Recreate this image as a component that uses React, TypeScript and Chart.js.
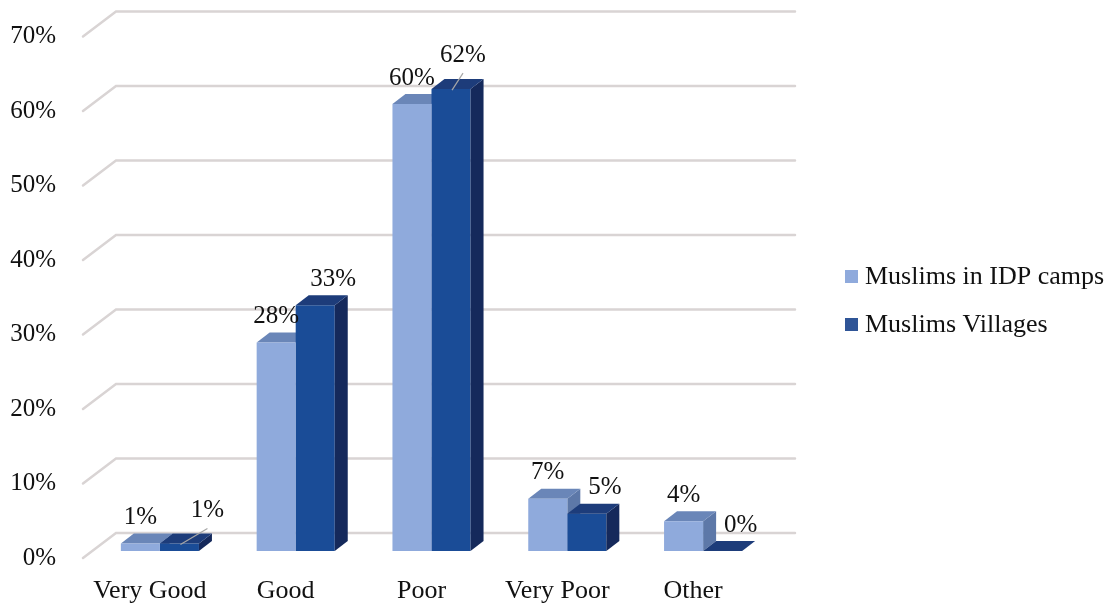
import React, { useEffect, useRef } from 'react';
import { Chart, registerables } from 'chart.js';

Chart.register(...registerables);

// ---- data ----
const categories = ['Very Good', 'Good', 'Poor', 'Very Poor', 'Other'];
const idpCamps = [1, 28, 60, 7, 4];
const villages = [1, 33, 62, 5, 0];
const seriesNames = ['Muslims in IDP camps', 'Muslims Villages'];
const yTickValues = [0, 10, 20, 30, 40, 50, 60, 70];

// ---- style ----
const FONT = '"Liberation Serif", "Times New Roman", serif';
const FONT_SIZE = 26;
const DEPTH_X = 13;
const DEPTH_Y = 10;
const WALL_X = 24;
const WALL_Y = 18;
const FRONT_X = -9;
const FRONT_Y = 7;
const GRID_RIGHT = 795;
const FACES = [
  { front: '#8FAADC', top: '#6A86B8', side: '#5D78A8' },
  { front: '#1A4C97', top: '#1D3C7A', side: '#15295B' },
];
const LEGEND_COLORS = ['#8FAADC', '#2F5597'];
const LABEL_SHIFT = [
  [0, -26],
  [18, -26],
];
// labels moved by hand in the original, with leader lines
const LABEL_SPECIAL: Record<string, [number, number]> = {
  '1-0': [28, -33],
  '1-2': [12, -34],
};

function poly(ctx: CanvasRenderingContext2D, pts: number[][], color: string) {
  ctx.beginPath();
  ctx.moveTo(pts[0][0], pts[0][1]);
  for (let i = 1; i < pts.length; i++) ctx.lineTo(pts[i][0], pts[i][1]);
  ctx.closePath();
  ctx.fillStyle = color;
  ctx.fill();
}

function drawTopSide(ctx: CanvasRenderingContext2D, el: any, face: any) {
  const { x, y, base, width } = el.getProps(['x', 'y', 'base', 'width'], true);
  const l = x - width / 2;
  const r = x + width / 2;
  poly(ctx, [[r, y], [r + DEPTH_X, y - DEPTH_Y], [r + DEPTH_X, base - DEPTH_Y], [r, base]], face.side);
  poly(ctx, [[l, y], [l + DEPTH_X, y - DEPTH_Y], [r + DEPTH_X, y - DEPTH_Y], [r, y]], face.top);
}

const threeD = {
  id: 'threeD',
  beforeDatasetsDraw(chart: any) {
    const ctx = chart.ctx as CanvasRenderingContext2D;
    const ys = chart.scales.y;
    const left = chart.chartArea.left;
    ctx.save();
    ctx.strokeStyle = '#d9d4d4';
    ctx.lineWidth = 2.5;
    ctx.lineCap = 'round';
    for (const v of yTickValues) {
      const py = ys.getPixelForValue(v);
      ctx.beginPath();
      ctx.moveTo(left + FRONT_X, py + FRONT_Y);
      ctx.lineTo(left + WALL_X, py - WALL_Y);
      ctx.lineTo(GRID_RIGHT, py - WALL_Y);
      ctx.stroke();
    }
    const meta0 = chart.getDatasetMeta(0);
    meta0.data.forEach((el: any) => drawTopSide(ctx, el, FACES[0]));
    ctx.restore();
  },
  afterDatasetsDraw(chart: any) {
    const ctx = chart.ctx as CanvasRenderingContext2D;
    ctx.save();
    const meta1 = chart.getDatasetMeta(1);
    meta1.data.forEach((el: any) => drawTopSide(ctx, el, FACES[1]));

    ctx.font = `${FONT_SIZE - 1}px ${FONT}`;
    ctx.fillStyle = '#111';
    ctx.textAlign = 'center';
    ctx.textBaseline = 'middle';
    chart.data.datasets.forEach((ds: any, di: number) => {
      const meta = chart.getDatasetMeta(di);
      meta.data.forEach((el: any, i: number) => {
        const { x, y } = el.getProps(['x', 'y'], true);
        const key = `${di}-${i}`;
        const sh = LABEL_SPECIAL[key] || LABEL_SHIFT[di];
        const lx = x + sh[0];
        const ly = y + sh[1];
        if (LABEL_SPECIAL[key]) {
          ctx.save();
          ctx.strokeStyle = '#a6a6a6';
          ctx.lineWidth = 1.2;
          ctx.beginPath();
          ctx.moveTo(x + 1, y + 1);
          ctx.lineTo(lx, ly + 18);
          ctx.stroke();
          ctx.restore();
        }
        ctx.fillText(`${ds.data[i]}%`, lx, ly);
      });
    });

    ctx.textAlign = 'left';
    ctx.font = `${FONT_SIZE}px ${FONT}`;
    chart.data.datasets.forEach((ds: any, di: number) => {
      const top = 270 + di * 48;
      ctx.fillStyle = LEGEND_COLORS[di];
      ctx.fillRect(845, top, 13, 13);
      ctx.fillStyle = '#111';
      ctx.fillText(ds.label, 865, top + 7);
    });
    ctx.restore();
  },
};

export default function App() {
  const ref = useRef<HTMLCanvasElement>(null);
  useEffect(() => {
    document.body.style.margin = '0';
    const chart = new Chart(ref.current!, {
      type: 'bar',
      data: {
        labels: categories,
        datasets: [
          { label: seriesNames[0], data: idpCamps, backgroundColor: FACES[0].front },
          { label: seriesNames[1], data: villages, backgroundColor: FACES[1].front },
        ],
      },
      options: {
        animation: false,
        responsive: false,
        devicePixelRatio: 1,
        layout: { padding: { top: 29.5, right: 344, bottom: 0, left: 0 } },
        datasets: { bar: { categoryPercentage: 0.575, barPercentage: 1 } },
        plugins: { legend: { display: false }, tooltip: { enabled: false } },
        scales: {
          x: {
            grid: { display: false, drawTicks: false },
            border: { display: false },
            ticks: {
              font: { family: FONT, size: FONT_SIZE },
              color: '#111',
              padding: 25,
              labelOffset: -10,
              maxRotation: 0,
            },
            afterFit: (s: any) => {
              s.height = 53;
            },
          },
          y: {
            min: 0,
            max: 70,
            grid: { display: false, drawTicks: true, tickLength: 36 },
            border: { display: false },
            ticks: {
              stepSize: 10,
              font: { family: FONT, size: FONT_SIZE - 1 },
              color: '#111',
              padding: 0,
              labelOffset: 7,
              callback: (v: any) => `${v}%`,
            },
            afterFit: (s: any) => {
              s.width = 92;
            },
          },
        },
      },
      plugins: [threeD],
    });
    return () => chart.destroy();
  }, []);
  return <canvas ref={ref} width={1115} height={604} />;
}
